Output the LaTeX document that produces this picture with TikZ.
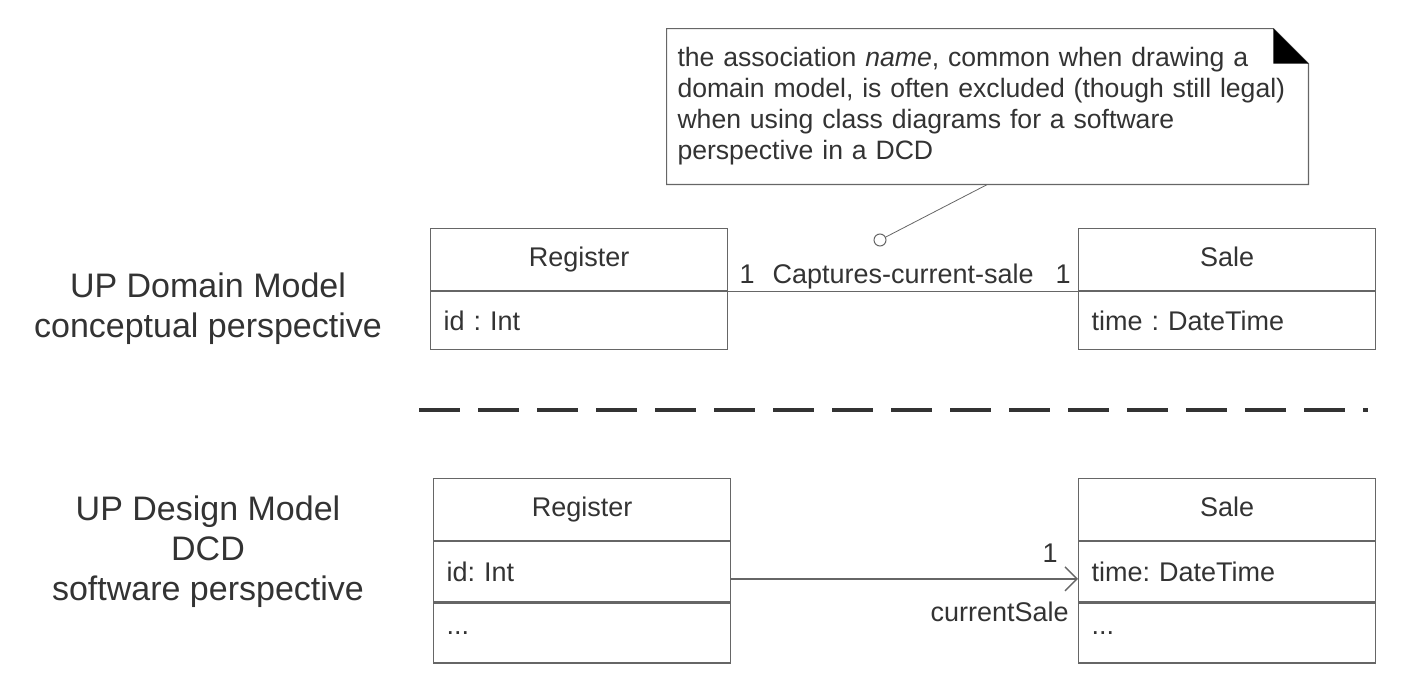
\documentclass[tikz,border=0pt]{standalone}
\usepackage{fontspec}
\setmainfont{Liberation Sans}
\usetikzlibrary{positioning,arrows.meta}
\definecolor{lineg}{gray}{0.4}
\definecolor{textg}{gray}{0.2}
\frenchspacing

\begin{document}
\begin{tikzpicture}[
    x=0.5pt, y=-0.5pt,
    every node/.style={text=textg},
    cname/.style={draw=lineg, line width=0.6pt, minimum width=148.5pt,
                  minimum height=31pt, inner sep=0pt,
                  text height=10pt, text depth=3pt,
                  font=\fontsize{13.5}{16}\selectfont},
    cattr/.style={draw=lineg, line width=0.6pt, minimum height=30pt,
                  text width=135.5pt, inner xsep=6.5pt, inner ysep=0pt,
                  align=left, font=\fontsize{13.5}{16}\selectfont},
    notebox/.style={minimum width=320.5pt, minimum height=77.5pt,
                    text width=310pt, inner xsep=5.25pt, align=left,
                    font=\fontsize{13.3}{15.5}\selectfont},
    noteedge/.style={draw=lineg, line width=0.6pt},
    noteline/.style={draw=lineg, line width=0.4pt},
    anchorc/.style={draw=lineg, circle, fill=white, minimum size=6pt,
                    inner sep=0pt, line width=0.5pt},
    assoc/.style={draw=lineg, line width=0.7pt},
    lbl/.style={font=\fontsize{13.5}{16}\selectfont, text depth=0pt},
    side/.style={align=center, font=\fontsize{17}{20}\selectfont},
    sepline/.style={draw=black!80, line width=1.6pt,
                    dash pattern=on 20.5pt off 9pt}
]
\useasboundingbox (0,0) rectangle (1414,696);

% Nota
\node[notebox] (note) at (987.5,106.5) {the association \emph{name}, common when drawing a\\
domain model, is often excluded (though still legal)\\
when using class diagrams for a software\\
perspective in a DCD};
\draw[noteedge] (note.north west) -- ([xshift=-17.5pt]note.north east)
    -- ([yshift=-17.5pt]note.north east) -- (note.south east)
    -- (note.south west) -- cycle;
\fill[black] ([xshift=-17.5pt]note.north east)
    -- ([xshift=-17.5pt,yshift=-17.5pt]note.north east)
    -- ([yshift=-17.5pt]note.north east) -- cycle;
\node[anchorc] (anc) at (880,240) {};
\draw[noteline] (note.south) -- (anc);

% Perspective
\node[side] (domlbl) at (208,309) {UP Domain Model\\conceptual perspective};
\node[side] (deslbl) at (208,552) {UP Design Model\\DCD\\software perspective};

% Domain model (sus)
\node[cname, anchor=north west] (reg1) at (430,228) {Register};
\node[cattr, minimum height=29pt, below=0pt of reg1] (reg1a) {id : Int};
\node[cname, anchor=north west] (sale1) at (1078,228) {Sale};
\node[cattr, minimum height=29pt, below=0pt of sale1] (sale1a) {time : DateTime};

% Register - Sale (asociere cu nume)
\draw[assoc] (reg1.south east)
    -- node[lbl, pos=0, anchor=south west, xshift=2pt]{1}
       node[lbl, midway, above]{Captures-current-sale}
       node[lbl, pos=1, anchor=south east]{1}
    (sale1.south west);

% Separator
\coordinate (sepL) at (419,410);
\coordinate (sepR) at (1368,410);
\draw[sepline] (sepL) -- (sepR);

% Design model (jos)
\node[cname, anchor=north west] (reg2) at (433,478) {Register};
\node[cattr, below=0pt of reg2] (reg2a) {id: Int};
\node[cattr, below=0pt of reg2a] (reg2b) {...};
\node[cname, anchor=north west] (sale2) at (1078,478) {Sale};
\node[cattr, below=0pt of sale2] (sale2a) {time: DateTime};
\node[cattr, below=0pt of sale2a] (sale2b) {...};

% Register -> Sale (navigabil)
\draw[assoc, -{Straight Barb[length=6pt, width=12pt]}]
    ([yshift=-3.5pt]reg2a.east)
    -- node[lbl, pos=1, anchor=south east, xshift=-6.5pt, yshift=4.5pt]{1}
       node[lbl, pos=1, anchor=north east, xshift=-1pt, yshift=-8pt]{currentSale}
    ([yshift=-3.5pt]sale2a.west);

\end{tikzpicture}
\end{document}
